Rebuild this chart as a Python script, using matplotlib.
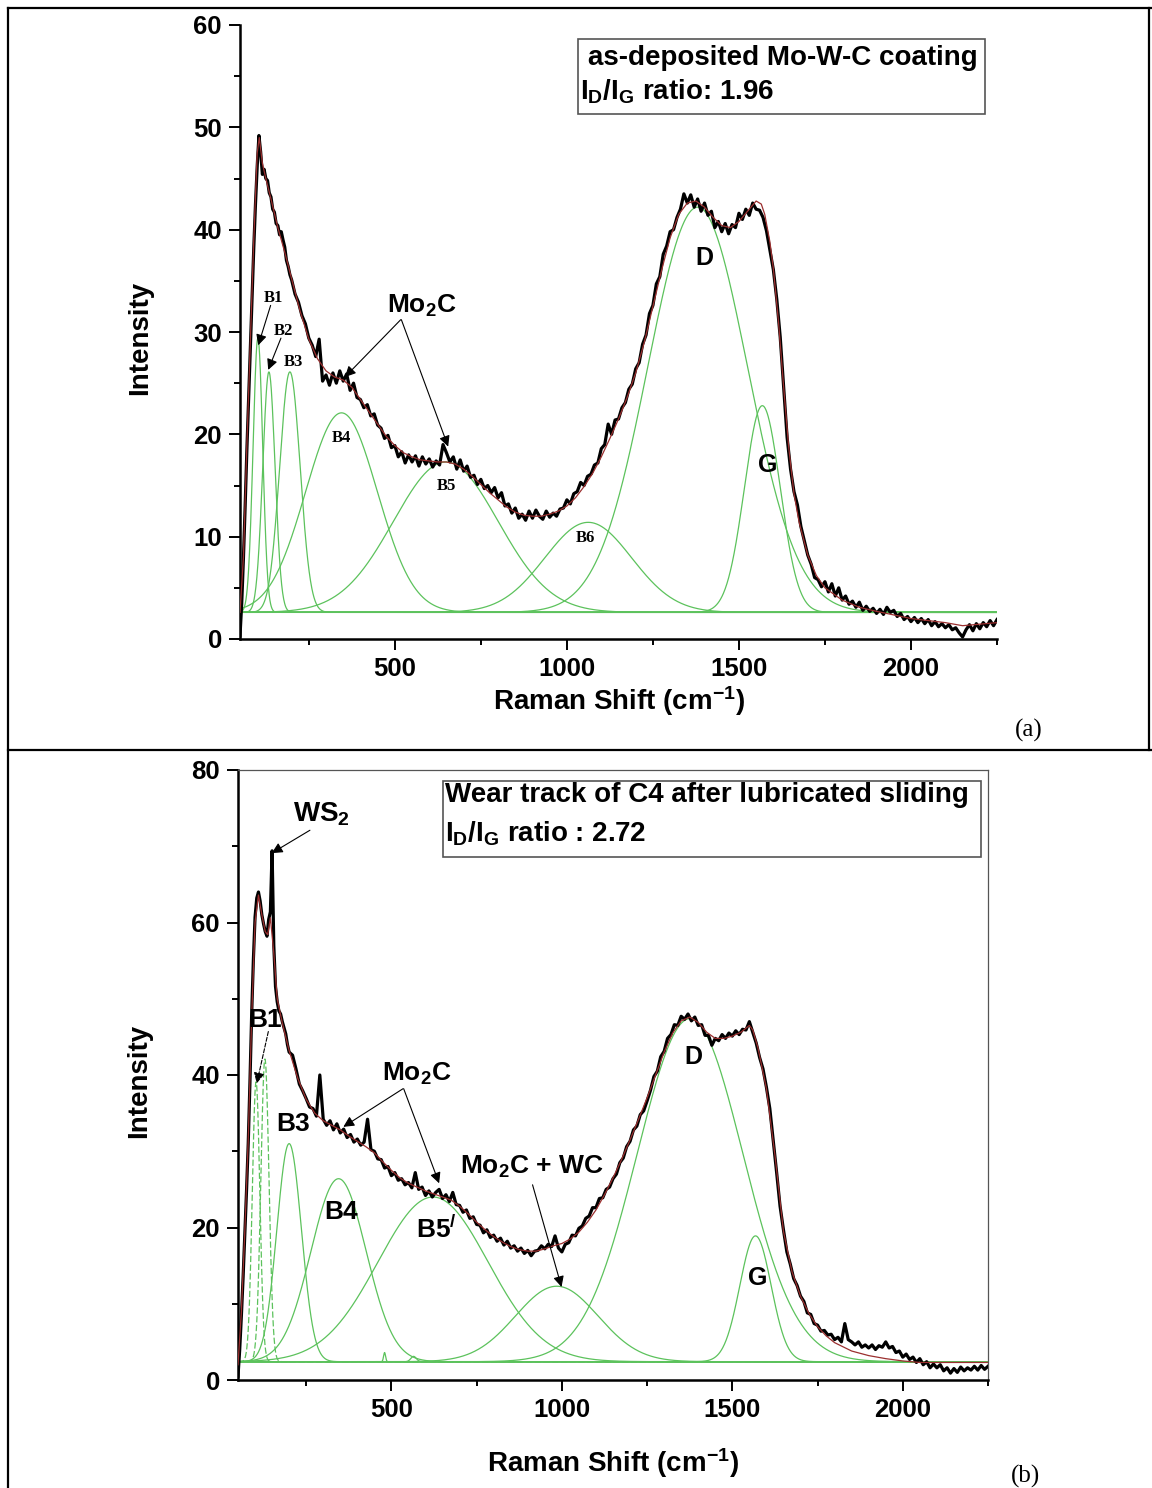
import numpy as np
import matplotlib.pyplot as plt
from matplotlib.lines import Line2D
from matplotlib.patches import Rectangle
from matplotlib.ticker import FixedLocator, MultipleLocator

plt.rcParams['font.family'] = ['Liberation Sans', 'DejaVu Sans']
plt.rcParams['font.weight'] = 'bold'
plt.rcParams['axes.labelweight'] = 'bold'
plt.rcParams['mathtext.fontset'] = 'custom'
plt.rcParams['mathtext.rm'] = 'Liberation Sans:bold'
plt.rcParams['mathtext.bf'] = 'Liberation Sans:bold'
plt.rcParams['mathtext.it'] = 'Liberation Sans:bold'

W, H = 1152, 1488

# Raman shift sampling (cm-1): 5 cm-1 steps near the laser edge, 10 cm-1 after
shift_fine = np.arange(50, 200, 5)
shift_coarse = np.arange(200, 2251, 10)
raman_shift = np.concatenate([shift_fine, shift_coarse])

# ---- (a) as-deposited Mo-W-C coating ----
spec_a_low = [0.3, 3.5, 7.9, 13.0, 18.5, 23.5, 28.6, 33.5, 38.2, 42.5,
              46.2, 49.2, 47.6, 45.4, 45.9, 45.0, 44.8, 43.6, 43.2, 42.0,
              41.7, 40.6, 40.4, 39.5, 39.8, 39.0, 38.3, 37.0, 36.4, 35.6]
spec_a_high = [
    35.1, 33.7, 32.9, 31.6, 30.8, 29.4, 28.7, 27.6, 29.3, 25.2,   # 200
    25.8, 24.8, 26.0, 25.0, 26.2, 25.2, 25.9, 24.3, 25.0, 23.6,   # 300
    23.4, 22.6, 22.9, 21.8, 22.0, 20.9, 20.6, 19.6, 19.9, 18.7,   # 400
    18.9, 17.8, 18.3, 17.2, 18.0, 17.3, 17.9, 16.9, 17.8, 17.1,   # 500
    17.6, 16.8, 17.4, 17.0, 19.0, 18.2, 17.3, 17.8, 16.6, 17.5,   # 600
    16.4, 16.9, 15.8, 16.0, 15.1, 15.6, 14.7, 15.0, 14.3, 14.8,   # 700
    13.8, 14.3, 13.0, 13.2, 12.3, 12.8, 11.8, 12.2, 11.6, 12.5,   # 800
    11.8, 12.6, 12.0, 11.7, 12.5, 11.9, 12.3, 12.0, 12.7, 12.8,   # 900
    13.6, 13.2, 14.2, 14.4, 15.3, 15.0, 15.9, 16.1, 17.0, 17.2,   # 1000
    18.6, 19.0, 21.0, 20.0, 21.4, 21.5, 22.6, 23.1, 24.4, 24.9,   # 1100
    26.4, 27.0, 28.8, 29.7, 31.8, 32.6, 34.7, 35.4, 37.6, 38.4,   # 1200
    39.8, 40.0, 41.2, 42.0, 43.5, 42.6, 43.4, 42.2, 43.0, 41.8,   # 1300
    42.6, 41.4, 41.8, 40.2, 40.8, 39.8, 40.6, 39.6, 40.5, 40.2,   # 1400
    41.6, 41.0, 42.0, 41.4, 42.6, 42.0, 41.9, 41.2, 39.9, 38.0,   # 1500
    36.1, 33.2, 29.5, 24.6, 19.7, 16.6, 14.4, 13.1, 11.0, 9.6,    # 1600
    8.2, 7.3, 6.0, 5.8, 5.1, 5.6, 4.6, 5.4, 4.2, 5.0,             # 1700
    3.8, 4.2, 3.4, 3.7, 3.1, 3.6, 2.8, 3.2, 2.7, 3.0,             # 1800
    2.5, 2.9, 2.4, 3.1, 2.6, 2.8, 2.2, 2.5, 1.9, 2.2,             # 1900
    1.7, 2.1, 1.6, 2.0, 1.5, 1.9, 1.3, 1.7, 1.2, 1.5,             # 2000
    1.1, 1.4, 0.9, 1.1, 0.6, 0.2, 0.9, 1.4, 0.8, 1.5,             # 2100
    1.0, 1.6, 1.2, 1.8, 1.3, 1.9]                                 # 2200
spec_a = np.array(spec_a_low + spec_a_high)

fit_a_shift = [50, 60, 70, 80, 90, 100, 106, 115, 125, 140,
               160, 180, 200, 225, 250, 275, 300, 325, 350, 375,
               400, 425, 450, 475, 500, 525, 550, 575, 600, 625,
               650, 675, 700, 725, 750, 775, 800, 825, 850, 875,
               900, 925, 950, 975, 1000, 1025, 1050, 1075, 1100, 1125,
               1150, 1175, 1200, 1225, 1250, 1275, 1300, 1325, 1350, 1375,
               1400, 1425, 1450, 1475, 1500, 1525, 1550, 1565, 1575, 1590,
               1600, 1615, 1630, 1645, 1660, 1675, 1700, 1725, 1750, 1800,
               1850, 1900, 2000, 2100, 2150, 2250]
fit_a = [2.6, 8.0, 19.0, 29.0, 39.0, 47.5, 49.0, 46.5, 45.0, 43.0,
         40.2, 37.8, 35.2, 32.0, 29.3, 27.4, 26.2, 25.6, 25.3, 24.6,
         23.4, 22.2, 21.0, 19.8, 18.9, 18.2, 17.8, 17.5, 17.4, 17.3,
         17.3, 17.1, 16.6, 15.9, 15.1, 14.3, 13.6, 12.9, 12.4, 12.1,
         12.0, 12.0, 12.2, 12.5, 13.0, 13.8, 14.9, 16.2, 17.8, 19.6,
         21.5, 23.6, 26.0, 29.0, 32.5, 36.0, 39.2, 41.5, 42.6, 42.8,
         42.2, 41.2, 40.4, 40.2, 40.8, 41.8, 42.8, 42.5, 41.5, 38.8,
         36.2, 31.0, 24.6, 18.6, 14.2, 11.4, 8.2, 6.2, 5.0, 3.8,
         3.1, 2.7, 2.0, 1.6, 1.3, 1.6]

# fitted bands: B1..B6, D, G  (centre cm-1, height above baseline, FWHM cm-1)
band_a_centre = [102, 134, 195, 345, 648, 1062, 1380, 1568]
band_a_height = [26.8, 23.5, 23.5, 19.5, 14.7, 8.8, 39.6, 20.2]
band_a_fwhm = [33, 42, 70, 245, 358, 297, 341, 122]
base_a = 2.6

# ---- (b) wear track of C4 after lubricated sliding ----
spec_b_low = [0.5, 4.0, 8.5, 13.5, 19.0, 24.8, 31.0, 39.0, 47.8, 55.0,
              60.7, 63.2, 64.0, 62.8, 61.0, 59.8, 58.8, 58.2, 60.4, 61.4,
              69.4, 57.0, 51.6, 49.6, 48.4, 48.0, 47.0, 46.2, 45.4, 44.0]
spec_b_high = [
    43.0, 42.6, 40.8, 38.8, 37.9, 36.9, 35.8, 35.6, 34.6, 40.0,   # 200
    34.2, 33.4, 34.0, 32.8, 33.6, 32.4, 32.9, 31.8, 32.2, 31.2,   # 300
    31.6, 30.8, 31.2, 34.2, 30.2, 30.0, 29.0, 28.9, 27.8, 28.0,   # 400
    26.8, 27.2, 26.2, 26.4, 25.6, 25.9, 25.2, 27.2, 25.0, 25.3,   # 500
    24.2, 24.8, 24.0, 24.6, 25.0, 23.8, 24.3, 23.4, 24.6, 23.0,   # 600
    22.9, 22.0, 22.3, 21.2, 21.4, 20.4, 20.3, 19.3, 19.7, 18.7,   # 700
    19.0, 18.2, 18.6, 17.7, 18.2, 17.3, 17.6, 16.9, 17.3, 16.6,   # 800
    17.0, 16.3, 16.9, 17.0, 17.6, 17.2, 17.8, 17.5, 18.9, 17.3,   # 900
    16.8, 17.8, 18.0, 19.0, 18.9, 19.9, 20.2, 21.2, 21.5, 22.6,   # 1000
    22.6, 23.8, 23.9, 25.0, 25.3, 26.4, 27.0, 28.5, 29.1, 30.6,   # 1100
    31.3, 32.8, 33.3, 34.8, 35.3, 36.6, 38.0, 39.8, 40.5, 42.4,   # 1200
    43.1, 44.8, 45.3, 46.6, 46.5, 47.7, 47.3, 48.0, 47.1, 47.6,   # 1300
    46.5, 46.6, 45.2, 45.2, 43.9, 44.8, 44.5, 45.3, 44.8, 45.5,   # 1400
    45.1, 45.8, 45.3, 46.0, 45.9, 47.0, 45.6, 44.2, 42.3, 40.8,   # 1500
    38.4, 35.6, 31.4, 27.2, 22.8, 19.7, 16.8, 15.2, 13.3, 12.4,   # 1600
    11.0, 10.3, 8.8, 8.6, 7.4, 7.2, 6.4, 6.5, 5.9, 6.0,           # 1700
    5.3, 5.6, 5.0, 7.4, 5.3, 5.0, 4.6, 5.0, 4.3, 4.6,             # 1800
    4.2, 4.6, 4.0, 4.5, 4.3, 5.0, 4.2, 4.4, 3.6, 3.8,             # 1900
    3.0, 3.4, 2.7, 3.0, 2.3, 2.8, 2.0, 2.4, 1.6, 2.1,             # 2000
    1.6, 2.0, 1.2, 1.6, 0.9, 1.5, 1.0, 1.7, 1.2, 1.6,             # 2100
    1.3, 1.8, 1.3, 1.9, 1.4, 1.8]                                 # 2200
spec_b = np.array(spec_b_low + spec_b_high)

fit_b_shift = [50, 60, 70, 80, 90, 100, 110, 120, 130, 137,
               145, 155, 165, 180, 200, 225, 250, 275, 300, 325,
               350, 375, 400, 425, 450, 475, 500, 525, 550, 575,
               600, 625, 650, 675, 700, 725, 750, 775, 800, 825,
               850, 875, 900, 925, 950, 975, 1000, 1025, 1050, 1075,
               1100, 1125, 1150, 1175, 1200, 1225, 1250, 1275, 1300, 1325,
               1350, 1375, 1400, 1425, 1450, 1475, 1500, 1525, 1550, 1560,
               1575, 1600, 1625, 1650, 1675, 1700, 1725, 1750, 1775, 1800,
               1850, 1900, 1950, 2000, 2050, 2250]
fit_b = [2.0, 9.0, 19.5, 31.5, 47.5, 60.0, 63.6, 61.0, 58.8, 58.4,
         60.6, 56.0, 50.0, 46.8, 43.2, 39.6, 36.8, 35.0, 34.0, 33.4,
         32.8, 32.0, 31.3, 30.6, 29.8, 28.6, 27.5, 26.5, 25.8, 25.3,
         24.8, 24.4, 24.0, 23.6, 22.8, 21.8, 20.7, 19.7, 18.8, 18.1,
         17.5, 17.1, 16.9, 16.9, 17.2, 17.6, 17.9, 18.5, 19.4, 20.7,
         22.3, 24.3, 26.5, 28.9, 31.5, 34.2, 37.0, 40.0, 43.0, 45.5,
         47.1, 47.6, 46.9, 45.6, 44.8, 44.8, 45.1, 45.6, 46.5, 45.9,
         43.6, 38.2, 29.5, 19.5, 14.2, 11.0, 8.7, 7.0, 5.8, 4.9,
         3.8, 3.2, 2.8, 2.5, 2.3, 2.3]

# B1, B2, B3, B4, B5', Mo2C+WC, D, G and two weak sharp bands
band_b_centre = [103, 129, 200, 345, 622, 985, 1376, 1568, 480, 565]
band_b_height = [36.7, 39.7, 28.6, 24.0, 21.6, 9.9, 45.0, 16.5, 1.2, 0.7]
band_b_fwhm = [26, 28, 85, 190, 380, 285, 365, 108, 7, 19]
band_b_dashed = [True, True] + [False] * 8
base_b = 2.4


def band(x, centre, height, fwhm):
    return height * np.exp(-4 * np.log(2) * (x - centre) ** 2 / fwhm ** 2)


GREEN = '#5cc25c'
FIT = '#9b2f2f'
grid = np.linspace(50, 2250, 2201)

fig = plt.figure(figsize=(W / 100, H / 100), dpi=100)
ax_a = fig.add_axes([240 / W, 1 - 639 / H, 757 / W, 614 / H])
ax_b = fig.add_axes([238 / W, 1 - 1380 / H, 750 / W, 610 / H])


def setup(ax, ymax, ystep):
    ax.set_xlim(50, 2250)
    ax.set_ylim(0, ymax)
    ax.xaxis.set_major_locator(FixedLocator([500, 1000, 1500, 2000]))
    ax.xaxis.set_minor_locator(FixedLocator([250, 750, 1250, 1750, 2250]))
    ax.yaxis.set_major_locator(MultipleLocator(ystep))
    ax.yaxis.set_minor_locator(MultipleLocator(ystep / 2))
    ax.tick_params(which='both', direction='out', width=1.4, top=False, right=False)
    ax.tick_params(which='major', length=8, labelsize=18.5, pad=5)
    ax.tick_params(which='minor', length=4.5)
    for s in ('left', 'bottom'):
        ax.spines[s].set_linewidth(1.8)
    ax.set_xlabel('Raman Shift (cm$^{-1}$)', fontsize=20)
    ax.set_ylabel('Intensity', fontsize=20)
    ax.yaxis.set_label_coords(-0.115, 0.49)


def draw(ax, spec, fit_x, fit_y, centres, heights, fwhms, base, dashed=None):
    ax.axhline(base, color=GREEN, lw=1.1, zorder=2)
    for i, (c, h, w) in enumerate(zip(centres, heights, fwhms)):
        ls = (0, (5, 2)) if dashed and dashed[i] else '-'
        ax.plot(grid, base + band(grid, c, h, w), color=GREEN, lw=0.9, ls=ls, zorder=2)
    ax.plot(raman_shift, spec, color='black', lw=2.3, zorder=3)
    ax.plot(fit_x, fit_y, color=FIT, lw=0.9, zorder=4)


def pointer(ax, tip, tail, ls='-'):
    ax.annotate('', xy=tip, xytext=tail, zorder=6,
                arrowprops=dict(arrowstyle='-|>', color='black', lw=0.8, ls=ls,
                                mutation_scale=16, shrinkA=0, shrinkB=0))


def note_box(ax, x0, y0, w, h, line1, line2, x1, x2, b1, b2):
    ax.add_patch(Rectangle((x0, y0), w, h, transform=ax.transAxes, fill=False,
                           ec='#555555', lw=1.2, zorder=7))
    ax.text(x1, b1, line1, transform=ax.transAxes, fontsize=20, va='baseline', zorder=7)
    ax.text(x2, b2, line2, transform=ax.transAxes, fontsize=20, va='baseline', zorder=7)


# ---- panel (a) ----
setup(ax_a, 60, 10)
ax_a.spines['top'].set_visible(False)
ax_a.spines['right'].set_visible(False)
ax_a.xaxis.set_label_coords(0.5, -0.073)
draw(ax_a, spec_a, fit_a_shift, fit_a, band_a_centre, band_a_height, band_a_fwhm, base_a)

serif = dict(family='Liberation Serif', weight='bold', fontsize=12,
             ha='center', va='center', zorder=6)
for name, x, y in [('B1', 148, 33.3), ('B2', 175, 30.1), ('B3', 204, 27.1),
                   ('B4', 346, 19.6), ('B5', 650, 15.0), ('B6', 1053, 9.9)]:
    ax_a.text(x, y, name, **serif)
pointer(ax_a, (103, 28.7), (139, 32.6))
pointer(ax_a, (132, 26.3), (169, 29.4))
ax_a.text(477, 31.9, r'Mo$_{2}$C', fontsize=19, va='baseline', zorder=6)
pointer(ax_a, (355, 25.6), (517, 31.2))
pointer(ax_a, (655, 18.8), (519, 31.2))
ax_a.text(1400, 37.2, 'D', fontsize=18, ha='center', va='center', zorder=6)
ax_a.text(1584, 17.05, 'G', fontsize=18, ha='center', va='center', zorder=6)
note_box(ax_a, 0.4465, 0.855, 0.5375, 0.122,
         'as-deposited Mo-W-C coating', r'I$_{D}$/I$_{G}$ ratio: 1.96',
         0.4594, 0.449, 0.935, 0.878)

# ---- panel (b) ----
setup(ax_b, 80, 20)
for s in ('top', 'right'):
    ax_b.spines[s].set_linewidth(0.9)
    ax_b.spines[s].set_color('#555555')
ax_b.xaxis.set_label_coords(0.5, -0.108)
draw(ax_b, spec_b, fit_b_shift, fit_b, band_b_centre, band_b_height, band_b_fwhm,
     base_b, band_b_dashed)

ax_b.text(211, 73.2, r'WS$_{2}$', fontsize=20, va='baseline', zorder=6)
pointer(ax_b, (149, 69.1), (261, 72.1))
ax_b.text(130, 47.2, 'B1', fontsize=19, ha='center', va='center', zorder=6)
pointer(ax_b, (105, 38.9), (139, 45.7), ls='--')
ax_b.text(213, 33.6, 'B3', fontsize=19, ha='center', va='center', zorder=6)
ax_b.text(352, 22.0, 'B4', fontsize=19, ha='center', va='center', zorder=6)
ax_b.text(572, 18.6, r'B5$^{/}$', fontsize=19, va='baseline', zorder=6)
ax_b.text(471, 39.3, r'Mo$_{2}$C', fontsize=19, va='baseline', zorder=6)
pointer(ax_b, (359, 33.2), (534, 38.2))
pointer(ax_b, (640, 25.8), (536, 38.2))
ax_b.text(701, 27.1, r'Mo$_{2}$C + WC', fontsize=19, va='baseline', zorder=6)
pointer(ax_b, (999, 12.2), (914, 25.6))
ax_b.text(1385, 42.3, 'D', fontsize=18, ha='center', va='center', zorder=6)
ax_b.text(1573, 13.4, 'G', fontsize=18, ha='center', va='center', zorder=6)
note_box(ax_b, 0.2733, 0.8574, 0.7173, 0.1246,
         'Wear track of C4 after lubricated sliding', r'I$_{D}$/I$_{G}$ ratio : 2.72',
         0.276, 0.276, 0.9475, 0.882)

# ---- table frame and panel tags ----
def rule(x0, y0, x1, y1):
    fig.add_artist(Line2D([x0 / W, x1 / W], [1 - y0 / H, 1 - y1 / H],
                          color='black', lw=1.6))


rule(8, 8, 1152, 8)
rule(8, 8, 8, 1488)
rule(1149, 8, 1149, 750)
rule(8, 750, 1152, 750)

fig.text(1029 / W, 1 - 730 / H, '(a)', family='Liberation Serif', weight='normal',
         fontsize=18, ha='center', va='center')
fig.text(1025 / W, 1 - 1476 / H, '(b)', family='Liberation Serif', weight='normal',
         fontsize=18, ha='center', va='center')

fig.savefig('out.png', dpi=100)
